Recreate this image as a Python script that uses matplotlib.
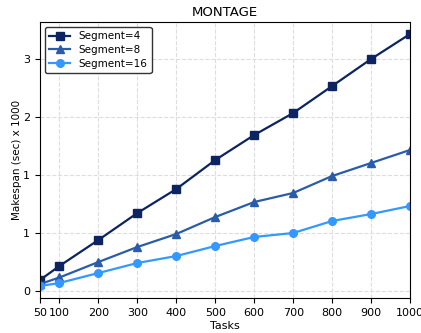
import matplotlib
matplotlib.use("Agg")
import matplotlib.pyplot as plt
from matplotlib.ticker import FormatStrFormatter

tasks = [50, 100, 200, 300, 400, 500, 600, 700, 800, 900, 1000]
seg4 = [0.133, 0.302, 0.616, 0.941, 1.231, 1.581, 1.883, 2.148, 2.474, 2.800, 3.102]
seg8 = [0.084, 0.163, 0.350, 0.531, 0.688, 0.893, 1.074, 1.183, 1.388, 1.545, 1.702]
seg16 = [0.060, 0.097, 0.217, 0.338, 0.422, 0.543, 0.652, 0.700, 0.845, 0.929, 1.026]

series = [
    ("Segment=4", seg4, "s", "#0c2461"),
    ("Segment=8", seg8, "^", "#2a5caa"),
    ("Segment=16", seg16, "o", "#3399ff"),
]

fig = plt.figure(figsize=(4.21, 3.33), dpi=100)
ax = fig.add_axes([0.095, 0.105, 0.879, 0.829])

for label, vals, marker, color in series:
    ax.plot(tasks, vals, marker=marker, color=color, label=label,
            linewidth=1.6, markersize=5.5)

ax.set_xlim(50, 1000)
ax.set_ylim(-0.085, 3.247)
ax.set_xticks(tasks)
ax.set_yticks([0, 0.7, 1.4, 2.1, 2.8])
ax.yaxis.set_major_formatter(FormatStrFormatter("%.0f"))
ax.tick_params(labelsize=8)
ax.grid(True, linestyle="--", color="#dddddd", linewidth=0.8)
ax.set_title("MONTAGE", fontsize=9.5, pad=4)
ax.set_xlabel("Tasks", fontsize=8, labelpad=2)
ax.set_ylabel("Makespan (sec) x 1000", fontsize=7.5, labelpad=1)
ax.legend(loc="upper left", fontsize=7.5, framealpha=1, edgecolor="#333333",
          handlelength=2.0, borderpad=0.4, labelspacing=0.35)

fig.savefig("out.png", dpi=100)
